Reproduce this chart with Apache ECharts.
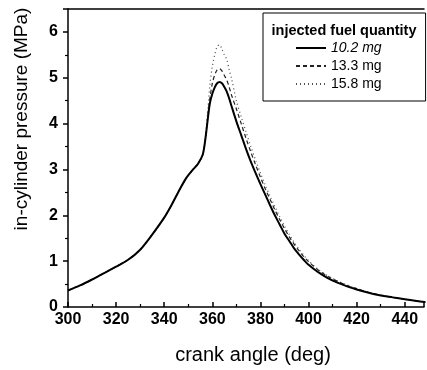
<!DOCTYPE html>
<html>
<head>
<meta charset="utf-8">
<script src="https://cdn.jsdelivr.net/npm/echarts@6/dist/echarts.min.js"></script>
<style>html,body{margin:0;padding:0;background:#fff;}#c{width:427px;height:370px;}</style>
</head>
<body>
<div id="c"></div>
<script>
const angles = [300,305,310,315,320,325,330,335,340,343,346,349,352,354,356,357,358,359,360,361,362,363,364,365,366,367,368,370,372,374,376,378,380,382,384,386,388,390,392,394,396,398,400,404,408,412,416,420,425,430,435,440,445,450];
const p102 = [0.36,0.47,0.60,0.74,0.88,1.03,1.25,1.58,1.95,2.22,2.52,2.80,3.00,3.12,3.32,3.62,4.05,4.45,4.65,4.79,4.88,4.91,4.88,4.80,4.70,4.55,4.38,4.05,3.75,3.45,3.17,2.92,2.68,2.45,2.22,2.00,1.80,1.60,1.44,1.28,1.15,1.03,0.92,0.76,0.63,0.53,0.45,0.38,0.31,0.25,0.21,0.17,0.13,0.10];
const p133 = [0.36,0.47,0.60,0.74,0.88,1.03,1.25,1.58,1.95,2.22,2.52,2.80,3.00,3.12,3.32,3.62,4.10,4.55,4.88,5.06,5.17,5.20,5.15,5.05,4.95,4.80,4.62,4.32,4.00,3.68,3.38,3.10,2.83,2.58,2.35,2.12,1.91,1.71,1.53,1.37,1.23,1.10,0.99,0.81,0.67,0.56,0.47,0.40,0.32,0.26,0.21,0.17,0.13,0.10];
const p158 = [0.36,0.47,0.60,0.74,0.88,1.03,1.25,1.58,1.95,2.22,2.52,2.80,3.00,3.12,3.32,3.65,4.20,4.85,5.25,5.50,5.68,5.72,5.62,5.50,5.40,5.18,4.98,4.50,4.15,3.82,3.50,3.20,2.92,2.66,2.42,2.19,1.97,1.77,1.58,1.41,1.26,1.13,1.01,0.82,0.68,0.57,0.48,0.40,0.32,0.26,0.21,0.17,0.13,0.10];
const seriesNames = ['10.2 mg','13.3 mg','15.8 mg'];
const xTicks = [300,320,340,360,380,400,420,440];
const yTicks = [0,1,2,3,4,5,6];
const legendTitle = 'injected fuel quantity';
const xTitle = 'crank angle (deg)';
const yTitle = 'in-cylinder pressure (MPa)';

const pairs = v => angles.map((a,i)=>[a,v[i]]);
const FONT = 'Liberation Sans, Arial, sans-serif';
const chart = echarts.init(document.getElementById('c'));
chart.setOption({
  animation:false,
  backgroundColor:'#fff',
  grid:{left:68,top:9,right:0,bottom:61,show:false},
  xAxis:[{type:'value',min:300,max:448,interval:20,
    name:xTitle,nameLocation:'middle',nameGap:38,
    nameTextStyle:{fontFamily:FONT,fontSize:20,color:'#000',padding:[0,0,0,14]},
    axisLine:{lineStyle:{color:'#000',width:1.5}},
    axisTick:{inside:true,length:5,lineStyle:{color:'#000',width:1.5}},
    minorTick:{show:true,splitNumber:2,length:3,lineStyle:{color:'#000',width:1.2}},
    axisLabel:{fontFamily:FONT,fontSize:16,fontWeight:'bold',color:'#000',margin:5,
      formatter:v=>xTicks.includes(v)?String(v):''},
    splitLine:{show:false}},
    {type:'value',position:'top',min:300,max:448,
     axisLine:{show:true,onZero:false,lineStyle:{color:'#000',width:1.5}},
     axisTick:{show:false},axisLabel:{show:false},splitLine:{show:false}}],
  yAxis:{type:'value',min:0,max:6.5,interval:1,
    axisLine:{show:true,lineStyle:{color:'#000',width:1.5}},
    axisTick:{inside:false,length:5,lineStyle:{color:'#000',width:1.5}},
    minorTick:{show:true,splitNumber:2,length:3,lineStyle:{color:'#000',width:1.2}},
    axisLabel:{fontFamily:FONT,fontSize:16,fontWeight:'bold',color:'#000',margin:10,
      formatter:v=>yTicks.includes(v)?String(v):''},
    splitLine:{show:false}},
  legend:{orient:'vertical',left:263,top:13,
    padding:[28,44,10,32],itemWidth:30,itemHeight:14,itemGap:4,
    borderColor:'#000',borderWidth:1,
    itemStyle:{opacity:0},
    data:seriesNames,
    formatter:n=>n===seriesNames[0]?'{i|'+n+'}':n,
    textStyle:{fontFamily:FONT,fontSize:14,color:'#000',
      rich:{i:{fontFamily:FONT,fontSize:14,fontStyle:'italic',color:'#000'}}}},
  graphic:[
    {type:'text',x:344,y:31,style:{text:legendTitle,font:'bold 14.5px Liberation Sans, Arial, sans-serif',fill:'#000',align:'center',verticalAlign:'middle'}},
    {type:'text',x:22,y:119,rotation:Math.PI/2,style:{text:yTitle,font:'19px Liberation Sans, Arial, sans-serif',fill:'#000',align:'center',verticalAlign:'middle'}}
  ],
  series:[
    {name:seriesNames[2],type:'line',data:pairs(p158),symbol:'none',smooth:0.3,z:1,
      itemStyle:{color:'#555'},lineStyle:{color:'#555',width:1.3,type:[1,3]}},
    {name:seriesNames[1],type:'line',data:pairs(p133),symbol:'none',smooth:0.3,z:2,
      itemStyle:{color:'#222'},lineStyle:{color:'#222',width:1.2,type:[4,3]}},
    {name:seriesNames[0],type:'line',data:pairs(p102),symbol:'none',smooth:0.3,z:3,
      itemStyle:{color:'#000'},lineStyle:{color:'#000',width:2}}
  ]
});
</script>
</body>
</html>
